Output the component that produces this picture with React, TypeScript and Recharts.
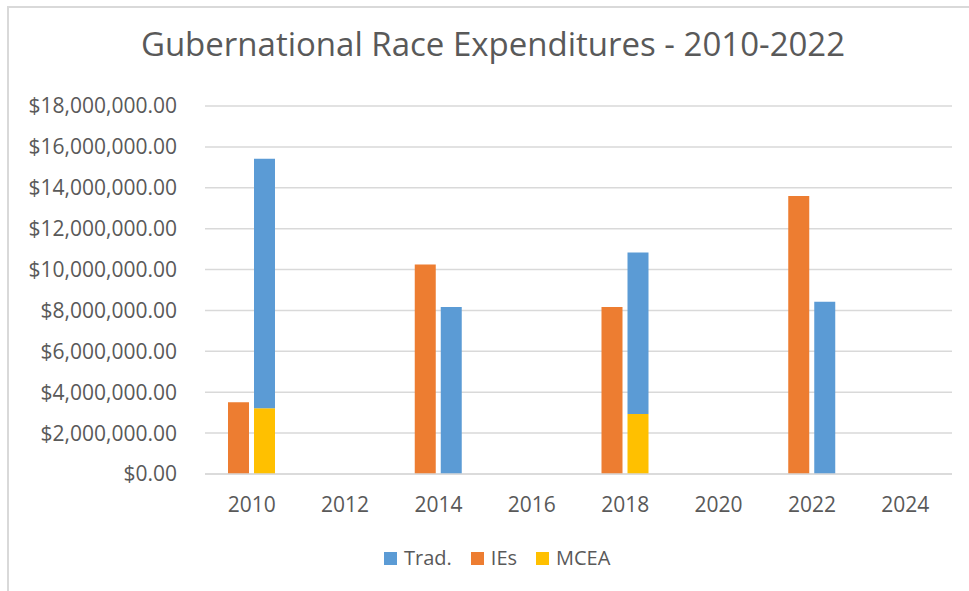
import React from "react";
import { BarChart, Bar, XAxis, YAxis, CartesianGrid } from "recharts";

const years = ["2010", "2012", "2014", "2016", "2018", "2020", "2022", "2024"];
const tradValues: (number | null)[] = [12200000, null, 8170000, null, 7900000, null, 8430000, null];
const ieValues: (number | null)[] = [3510000, null, 10250000, null, 8170000, null, 13600000, null];
const mceaValues: (number | null)[] = [3220000, null, null, null, 2930000, null, null, null];
const yTicks = [0, 2000000, 4000000, 6000000, 8000000, 10000000, 12000000, 14000000, 16000000, 18000000];

const COLORS = { trad: "#5B9BD5", ie: "#ED7D31", mcea: "#FFC000" };
const TEXT = "#595959";
const FONT = "'Open Sans', 'Noto Sans', sans-serif";

const data = years.map((y, i) => ({
  year: y,
  trad: tradValues[i],
  ie: ieValues[i],
  mcea: mceaValues[i],
}));

const fmt = (v: number) =>
  "$" + v.toLocaleString("en-US", { minimumFractionDigits: 2, maximumFractionDigits: 2 });

const legendItems = [
  { label: "Trad.", color: COLORS.trad },
  { label: "IEs", color: COLORS.ie },
  { label: "MCEA", color: COLORS.mcea },
];

export default function App() {
  return (
    <div style={{ position: "absolute", left: 0, top: 0, width: 969, height: 591, overflow: "hidden", background: "#fff", fontFamily: FONT }}>
      <div
        style={{
          position: "absolute",
          left: 7,
          top: 6,
          width: 1000,
          height: 640,
          borderLeft: "2px solid #D9D9D9",
          borderTop: "2px solid #D9D9D9",
        }}
      />
      <div
        style={{
          position: "absolute",
          left: 0,
          width: 986,
          top: 24,
          textAlign: "center",
          fontSize: 33,
          color: TEXT,
          lineHeight: "40px",
          whiteSpace: "nowrap",
        }}
      >
        Gubernational Race Expenditures - 2010-2022
      </div>
      <div style={{ position: "absolute", left: 0, top: 0 }}>
        <BarChart
          width={969}
          height={591}
          data={data}
          margin={{ top: 106, right: 17, bottom: 0, left: 0 }}
          barGap={5}
          barSize={21}
        >
          <CartesianGrid vertical={false} stroke="#D9D9D9" strokeWidth={1.5} />
          <XAxis
            dataKey="year"
            axisLine={{ stroke: "#D9D9D9", strokeWidth: 1.5 }}
            tickLine={false}
            tickSize={0}
            tickMargin={23}
            tick={{ fill: TEXT, fontSize: 21, fontFamily: FONT }}
            height={117}
          />
          <YAxis
            domain={[0, 18000000]}
            ticks={yTicks}
            interval={0}
            axisLine={false}
            tickLine={false}
            tickSize={0}
            tickMargin={28}
            width={205}
            tickFormatter={fmt}
            tick={{ fill: TEXT, fontSize: 21, fontFamily: FONT }}
          />
          <Bar dataKey="ie" name="IEs" stackId="ie" fill={COLORS.ie} isAnimationActive={false} />
          <Bar dataKey="mcea" name="MCEA" stackId="tot" fill={COLORS.mcea} isAnimationActive={false} />
          <Bar dataKey="trad" name="Trad." stackId="tot" fill={COLORS.trad} isAnimationActive={false} />
        </BarChart>
      </div>
      <div
        style={{
          position: "absolute",
          left: 384,
          top: 546,
          display: "flex",
          alignItems: "center",
          height: 24,
          lineHeight: "24px",
          fontSize: 20,
          color: TEXT,
        }}
      >
        {legendItems.map((it) => (
          <div key={it.label} style={{ display: "flex", alignItems: "center", marginRight: 19 }}>
            <span style={{ display: "inline-block", width: 13, height: 13, background: it.color, marginRight: 7 }} />
            <span>{it.label}</span>
          </div>
        ))}
      </div>
    </div>
  );
}
